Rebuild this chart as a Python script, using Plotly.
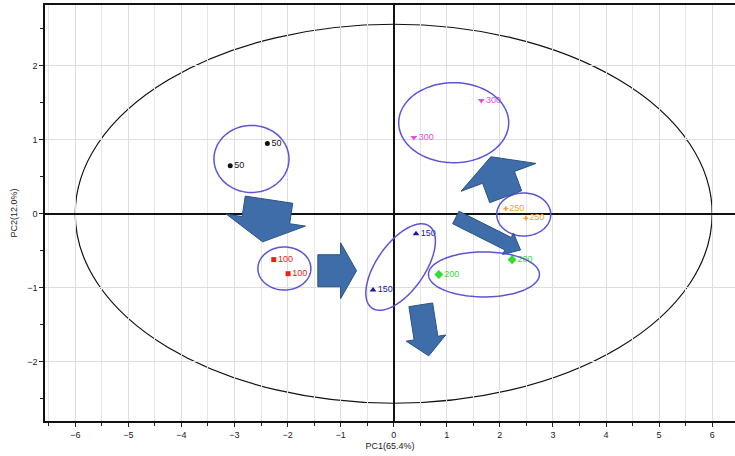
import numpy as np
import plotly.graph_objects as go

# ---------------- data ----------------
groups = ["50", "100", "150", "200", "250", "300"]
pc1_50 = [-2.38, -3.08]
pc2_50 = [0.95, 0.65]
pc1_100 = [-2.26, -1.99]
pc2_100 = [-0.62, -0.81]
pc1_150 = [0.42, -0.39]
pc2_150 = [-0.27, -1.03]
pc1_200 = [0.85, 2.23]
pc2_200 = [-0.82, -0.62]
pc1_250 = [2.11, 2.49]
pc2_250 = [0.07, -0.06]
pc1_300 = [1.65, 0.38]
pc2_300 = [1.53, 1.03]

colors = ["#111111", "#e8201a", "#1a1aa8", "#33dd33", "#f0a030", "#e050d8"]
symbols = ["circle", "square", "triangle-up", "diamond", "cross", "triangle-down"]
msizes = [5, 5, 6, 7, 4, 6]

xs = [pc1_50, pc1_100, pc1_150, pc1_200, pc1_250, pc1_300]
ys = [pc2_50, pc2_100, pc2_150, pc2_200, pc2_250, pc2_300]

# Hotelling ellipse semi-axes
hot_a = 6.0
hot_b = 2.56

# group ellipses: center (data), semi axes (px), angle (deg)
ell_cx = [-2.68, -2.06, 0.13, 1.70, 2.45, 1.13]
ell_cy = [0.74, -0.74, -0.72, -0.82, -0.01, 1.23]
ell_a = [37.5, 26.5, 50, 55.5, 27, 55]
ell_b = [33.5, 21.5, 24, 22.5, 21.5, 40]
ell_ang = [0, 0, 55, 0, 0, 0]

# arrows: tail and tip (data), shaft half-width, head half-width, head length (px)
arr_tail_x = [-2.35, -1.43, 0.51, 1.17, 2.11]
arr_tail_y = [0.19, -0.77, -1.23, -0.05, 0.23]
arr_tip_x = [-2.47, -0.70, 0.66, 2.39, 1.83]
arr_tip_y = [-0.38, -0.77, -1.92, -0.49, 0.77]
arr_sw = [24, 16, 12, 7, 17]
arr_hw = [40, 28, 20, 12, 40]
arr_hl = [22, 16, 18, 14, 22]

# ---------------- layout geometry ----------------
W, H = 735, 456
ml, mr, mt, mb = 45, 0, 5, 35
xr = [-6.57, 6.43]
yr = [-2.80, 2.82]
sx = (W - ml - mr) / (xr[1] - xr[0])
sy = (H - mt - mb) / (yr[1] - yr[0])


def path_from(px, py):
    return "M " + " L ".join(f"{a:.4f},{b:.4f}" for a, b in zip(px, py)) + " Z"


fig = go.Figure()

shapes = []
# Hotelling ellipse
shapes.append(dict(type="circle", xref="x", yref="y", x0=-hot_a, x1=hot_a, y0=-hot_b, y1=hot_b,
                   line=dict(color="#111111", width=1.2), layer="below"))

# group ellipses
t = np.linspace(0, 2 * np.pi, 120)
for cx, cy, a, b, ang in zip(ell_cx, ell_cy, ell_a, ell_b, ell_ang):
    th = np.deg2rad(ang)
    dx = a * np.cos(t) * np.cos(th) - b * np.sin(t) * np.sin(th)
    dy = a * np.cos(t) * np.sin(th) + b * np.sin(t) * np.cos(th)
    shapes.append(dict(type="path", xref="x", yref="y", path=path_from(cx + dx / sx, cy + dy / sy),
                       line=dict(color="#5b55d6", width=1.5)))

# arrows
for tx, ty, hx, hy, sw, hw, hl in zip(arr_tail_x, arr_tail_y, arr_tip_x, arr_tip_y, arr_sw, arr_hw, arr_hl):
    px0, py0 = tx * sx, ty * sy
    px1, py1 = hx * sx, hy * sy
    L = np.hypot(px1 - px0, py1 - py0)
    ux, uy = (px1 - px0) / L, (py1 - py0) / L
    nx, ny = -uy, ux
    bl = L - hl
    pts = [(0, sw), (bl, sw), (bl, hw), (L, 0), (bl, -hw), (bl, -sw), (0, -sw)]
    pxs = [(px0 + s * ux + w * nx) / sx for s, w in pts]
    pys = [(py0 + s * uy + w * ny) / sy for s, w in pts]
    shapes.append(dict(type="path", xref="x", yref="y", path=path_from(pxs, pys),
                       fillcolor="#3f6da9", line=dict(color="#2b5283", width=1)))

for g, x, y, c, s, ms in zip(groups, xs, ys, colors, symbols, msizes):
    fig.add_trace(go.Scatter(
        x=x, y=y, mode="markers+text", text=[g] * len(x), textposition="middle right",
        textfont=dict(size=9, color=c, family="Liberation Sans"),
        marker=dict(color=c, symbol=s, size=ms, line=dict(width=0)),
        showlegend=False, cliponaxis=False))

fig.update_layout(
    width=W, height=H,
    margin=dict(l=ml, r=mr, t=mt, b=mb),
    paper_bgcolor="white", plot_bgcolor="white",
    shapes=shapes,
    font=dict(family="Liberation Sans", size=9, color="#222222"),
    xaxis=dict(
        range=xr, dtick=1, tick0=0, showgrid=True, gridcolor="#dedede", gridwidth=1,
        minor=dict(dtick=0.5, tick0=0, showgrid=True, gridcolor="#e6e6e6", ticks="outside", ticklen=3,
                   tickcolor="#222"),
        zeroline=True, zerolinecolor="#111111", zerolinewidth=1.5,
        showline=True, linecolor="#111111", linewidth=1.5, mirror=True,
        ticks="outside", ticklen=4, tickcolor="#222",
        title=dict(text="PC1(65.4%)", font=dict(size=9), standoff=4),
    ),
    yaxis=dict(
        range=yr, dtick=1, tick0=0, showgrid=True, gridcolor="#dedede", gridwidth=1,
        minor=dict(dtick=0.5, tick0=0, showgrid=False, ticks="outside", ticklen=3, tickcolor="#222"),
        zeroline=True, zerolinecolor="#111111", zerolinewidth=1.5,
        showline=True, linecolor="#111111", linewidth=1.5, mirror=False,
        ticks="outside", ticklen=4, tickcolor="#222",
        title=dict(text="PC2(12.0%)", font=dict(size=9), standoff=8),
    ),
)

fig.write_html("out.html")
